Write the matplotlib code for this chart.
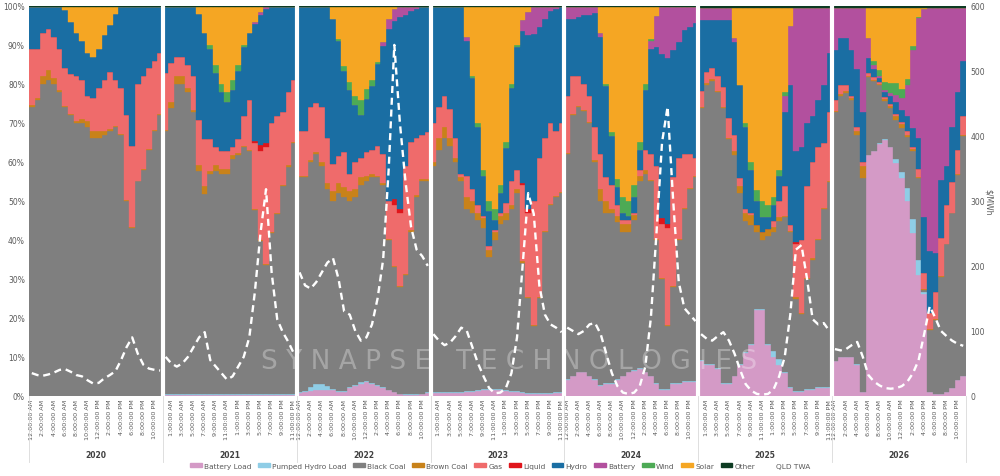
import numpy as np
import matplotlib
matplotlib.use("Agg")
import matplotlib.pyplot as plt
import matplotlib.transforms as mtrans
from matplotlib.patches import Patch
from matplotlib.lines import Line2D

years = ["2020", "2021", "2022", "2023", "2024", "2025", "2026"]
hours = ["12:00:00 AM", "1:00:00 AM", "2:00:00 AM", "3:00:00 AM", "4:00:00 AM", "5:00:00 AM",
         "6:00:00 AM", "7:00:00 AM", "8:00:00 AM", "9:00:00 AM", "10:00:00 AM", "11:00:00 AM",
         "12:00:00 PM", "1:00:00 PM", "2:00:00 PM", "3:00:00 PM", "4:00:00 PM", "5:00:00 PM",
         "6:00:00 PM", "7:00:00 PM", "8:00:00 PM", "9:00:00 PM", "10:00:00 PM", "11:00:00 PM"]
first_label = [0, 1, 0, 1, 0, 1, 0]   # excel skips every other hour label

# generation share by hour of day (%), one row per year
battery_load = [
    [0,0,0,0,0,0,0,0,0,0,0,0,0,0,0,0,0,0,0,0,0,0,0,0],
    [0.3,0.3,0.3,0.3,0.3,0.3,0.3,0.3,0.3,0.3,0.3,0.3,0.3,0.3,0.3,0.3,0.3,0.3,0.3,0.3,0.3,0.3,0.3,0.3],
    [0.8,1,1.2,1.5,1.5,1.5,1.5,1,1,2,2.5,3,3.5,3,2.5,2,1.5,1,0.5,0.3,0.3,0.3,0.5,0.8],
    [0.8,0.8,0.8,0.8,0.8,0.8,1,1,1.2,1.5,1.5,1.5,1.5,1.2,1,1,0.8,0.5,0.5,0.5,0.5,0.5,0.8,0.8],
    [4,5,6,6,5,4,2.5,3,3,4,5,6,6.5,7,6,5,3,1.5,1.5,3,3,3.5,3.5,3.5],
    [9,8,8,7,3,3,5,8,11,13,22,22,13,10,8,6,2,1,1,1.5,1.5,2,2,2],
    [9,10,10,10,8,1,62,63,65,66,64,60,56,50,42,31,26.5,1,0.5,0.5,1,2,4,5],
]
pumped_hydro_load = [
    [0,0,0,0,0,0,0,0,0,0,0,0,0,0,0,0,0,0,0,0,0,0,0,0],
    [0.2,0.2,0.2,0.2,0.2,0.2,0.2,0.2,0.2,0.2,0.2,0.2,0.2,0.2,0.2,0.2,0.2,0.2,0.2,0.2,0.2,0.2,0.2,0.2],
    [0.2,0.3,1,1.5,1.5,1,0.3,0.3,0.3,0.3,0.3,0.5,0.3,0.2,0.2,0.2,0.1,0.1,0.1,0.1,0.1,0.1,0.1,0.2],
    [0.2,0.2,0.2,0.2,0.2,0.2,0.2,0.2,0.2,0.2,0.2,0.2,0.2,0.2,0.2,0.2,0.2,0.2,0.2,0.2,0.2,0.2,0.2,0.2],
    [0.2,0.2,0.2,0.2,0.2,0.2,0.2,0.2,0.2,0.2,0.2,0.2,0.2,0.2,0.2,0.2,0.2,0.2,0.2,0.2,0.2,0.2,0.2,0.2],
    [0.2,0.2,0.2,0.2,0.2,0.2,0.2,0.2,0.2,0.2,0.2,0.2,0.2,1.5,1.5,0.2,0.2,0.2,0.2,0.2,0.2,0.2,0.2,0.2],
    [0.1,0.1,0.1,0.1,0.1,0.1,0.1,0.1,0.1,0.1,0.1,1,1.5,3.5,3.5,4,0.5,0.1,0.1,0.1,0.1,0.1,0.1,0.1],
]
black_coal = [
    [74,76,80,81,80,78,74,72,70,70,69,66,66,67,68,69,67,50,43,55,58,63,68,72],
    [67,73,79,79,77,72,57,51,56,57,56,56,60,61,63,62,47,39,33,41,46,53,58,64],
    [55,54.7,57.8,59,56,50.5,48.2,50.7,49.7,47.7,48.2,50.5,51.2,52.8,53.3,51.8,38.4,31.9,27.4,30.6,41.6,50.6,54.4,54],
    [58,62,65,63,59,54,46.8,45.8,43.6,41.3,33.8,38.3,42.3,43.6,46.8,50.8,33,24.3,17.3,24.3,41.3,48.3,50,51],
    [57.8,66.8,67.8,66.8,64.8,55.8,47.3,43.8,43.8,40.3,36.8,35.8,38.3,47.8,50.8,49.8,36.8,28.3,16.3,24.8,36.8,44.3,49.3,52.3],
    [64.8,71.8,72.8,70.8,70.8,62.8,56.8,43.8,33.8,30.8,19.8,17.8,27.8,30.5,35.5,39.8,39.8,23.8,19.8,28.3,33.3,37.8,45.8,52.8],
    [64,67,68,66,59,55,20,18,15,10,10,10,11.5,13,17.5,21,0.5,16,19,30,38,45,53,62],
]
brown_coal = [
    [0.5,0.5,2,2.5,1.5,0.5,0.3,0.3,0.5,1,1.5,2,2,1,0.5,0.3,0.2,0.2,0.2,0.2,0.2,0.2,0.3,0.3],
    [0.3,1.5,2,2,1,0.5,1.5,2,1,1.5,1.5,1.5,1,0.5,0.3,0.3,0.2,0.2,0.2,0.2,0.2,0.2,0.3,0.3],
    [0.5,0.5,0.5,0.5,1,1.5,2.5,2.5,2.5,2.5,2,2,1.5,1,0.5,0.5,0.3,0.3,0.3,0.3,0.5,0.5,0.5,0.5],
    [1,3,3,2,1,1,3,3,2,2.5,2,2,2,2,1,1,0.5,0.3,0.3,0.3,0.3,0.3,0.3,0.3],
    [0.3,0.3,0.3,0.3,0.3,0.5,3,3,1,1.5,2,2,1.5,1.5,1,0.3,0.3,0.3,0.3,0.3,0.3,0.3,0.3,0.3],
    [0.3,0.3,0.3,0.3,0.3,0.3,1,2,2,2.5,2,2,2,1.5,1,0.3,0.3,0.3,0.3,0.3,0.3,0.3,0.3,0.3],
    [0.3,0.5,0.5,0.5,1,3,0.3,0.3,0.3,0.3,0.5,1,1,0.5,0.5,0.3,0.2,0.2,0.2,0.2,0.2,0.2,0.2,0.2],
]
gas = [
    [14.5,12.5,11,10.5,10.5,10.5,9.7,10.2,11.5,10,6.5,8.5,11,13,14.5,11.7,11.8,21.8,20.8,24.8,23.8,20.8,17.7,15.7],
    [14.7,10,5,5,6,8.5,11.5,12,8,4.5,4.5,4.5,2,3.5,7.7,12.7,16.8,22.8,29.8,27.8,24.8,18.8,18.7,15.7],
    [11.5,11.5,13.5,12.5,14,11.5,7,7,9,4.5,7,5,6,6,7.5,7.5,9.7,15.7,18.7,27.7,22.5,14.5,11.5,12.1],
    [10,8,8,7.6,5,1,5.5,3,2,0.5,1,0.5,1,2.5,6,5,19.5,21.7,31.7,35.7,23.7,20.7,16.7,17.7],
    [14.7,9.7,7.7,6.7,6.7,8.5,9,6,6,3,1,1,0.5,1.5,5,6.7,18.7,13.7,24.7,27.7,20.7,13.7,8.7,4.7],
    [4,3,3,4,5,5,4,2,1,0.5,0,0,0,1.5,4,7.7,1.7,13.7,18.7,23.7,24.7,23.7,16.7,17.7],
    [2.7,2.5,1.5,0.5,1,1,0.7,0.7,0.5,0.5,0.5,0.5,0.5,1,0.5,2,4,4,7,10,10,8,6,5],
]
liquid = [
    [0,0,0,0,0,0,0,0,0,0,0,0,0,0,0,0,0,0,0,0,0,0,0,0],
    [0,0,0,0,0,0,0,0,0,0,0,0,0,0,0,0,0.5,1.5,1,0,0,0,0,0],
    [0,0,0,0,0,0,0,0,0,0,0,0,0,0,0,0,0,1.5,1,0,0,0,0,0],
    [0,0,0,0,0,0,0,0,0,0,0,0,0,0,0,0,0.5,1,0,0,0,0,0,0],
    [0,0,0,0,0,0,0,0,0,0,0,0,0,0,0,0,0,1.5,1,0,0,0,0,0],
    [0,0,0,0,0,0,0,0,0,0,0,0,0,0,0,0,0,0.5,0,0,0,0,0,0],
    [0,0,0,0,0,0,0,0,0,0,0,0,0,0,0,0,0,0,0,0,0,0,0,0],
]
hydro = [
    [10.7,10.7,6.7,5.7,7.7,10.7,15,13.5,11,10,11,10.5,10,11.5,12,17,20.7,27.7,35.7,19.7,17.7,15.7,13.7,11.7],
    [16.7,14.2,12.7,12.7,14.7,17.7,27,27,23,19,15,12.5,14.5,17.5,17.5,17,30,33.2,34.2,29.7,27.7,26.7,21.7,18.7],
    [31.7,31.7,25.7,24.7,25.7,33.7,37.2,29.5,20.7,21.4,14.5,11,13.7,16.4,21.1,27.7,44.2,45.7,49.2,38.7,33.7,33.2,32.7,32.1],
    [29.7,25.7,22.7,26.1,33.7,42.7,34.5,28.5,20,10.5,9,2.5,5,14,24,31.5,39,44.5,42.7,33.7,30.7,28.7,31.2,29.7],
    [19.7,14.7,15.2,17.7,20.7,29.2,30,23.5,12.6,4.6,2,1,4,5,15.5,27,30.5,42.2,42.7,32.7,29.7,31.7,32.7,34.7],
    [18.4,13.4,12.4,14.4,17.4,25.4,24,24,21,11,6,4,3,4,6.5,19,36,23.5,24,16,12,12,15,15],
    [13,12,12,12,15,13,4,2,1,1.5,2,3,3,4,5,8,14.5,16,10,15,10,14,15,14],
]
battery = [
    [0,0,0,0,0,0,0,0,0,0,0,0,0,0,0,0,0,0,0,0,0,0,0,0],
    [0,0,0,0,0,0,0,0,0,0,0,0,0,0,0,0,0.5,0.8,0.5,0,0,0,0,0],
    [0,0,0,0,0,0,0,0,0,0,0,0,0,0,0,1,2.5,3,2.5,2,1,0.5,0,0],
    [0,0,0,0,0,0,1,0,0,0,0,0,0,0,0,0,3,6,7,5,3,1,0.5,0],
    [3,3,2.5,2,2,1.5,1,0,0,0,0,0,0,0,0,2,8,12,13,11,9,6,5,4],
    [3,3,3,3,3,3,1,0,0,0,0,0,0,0,0,4,15,36.7,35.7,29.7,27.7,23.7,19.7,11.7],
    [10.7,7.7,7.7,10.7,15.7,26.7,5,1,0.5,0.5,1,2,3,8,20,31,54,62.7,63.2,44.2,40.7,30.7,21.7,13.7],
]
wind = [
    [0,0,0,0,0,0,0,0,0,0,0,0,0,0,0,0,0,0,0,0,0,0,0,0],
    [0,0,0,0,0,0,0,0,1,2,2,2.5,2.5,1.5,0.5,0,0,0,0,0,0,0,0,0],
    [0,0,0,0,0,0,0,0.5,1.5,2,2.5,4,2.5,1.5,0.5,0,0,0,0,0,0,0,0,0],
    [0,0,0,0,0,0,0,0.5,1,1.5,2.5,3,2,1.5,1,0.5,0,0,0,0,0,0,0,0],
    [0,0,0,0,0,0,0,0.5,1,2,4,4,3,2,1.5,0.5,0,0,0,0,0,0,0,0],
    [0,0,0,0,0,0,0,0,1,2,3,4,3,2,1.5,1,0,0,0,0,0,0,0,0],
    [0,0,0,0,0,0,0,1,1.5,2,2.5,3,2.5,1.5,1,0.3,0,0,0,0,0,0,0,0],
]
solar = [
    [0,0,0,0,0,0,0.7,3.7,6.7,8.7,11.7,12.7,10.7,7.2,4.7,1.7,0,0,0,0,0,0,0,0],
    [0,0,0,0,0,0,1.7,6.7,9.7,14.7,19.7,21.7,18.7,14.7,9.7,6.7,3.7,1.2,0,0,0,0,0,0],
    [0,0,0,0,0,0,3,8.2,15,19.3,22.7,23.7,21,18.8,14.1,9,3,0.5,0,0,0,0,0,0],
    [0,0,0,0,0,0,7.7,17.7,29.7,41.7,49.7,51.7,45.7,34.7,19.7,9.7,3.2,1.2,0,0,0,0,0,0],
    [0,0,0,0,0,0,6.7,19.7,32.1,44.1,48.7,49.7,45.7,34.7,19.7,8.2,2.2,0,0,0,0,0,0,0],
    [0,0,0,0,0,0,7.7,19.7,29.7,39.7,46.7,49.7,50.7,48.7,41.7,21.7,4.7,0,0,0,0,0,0,0],
    [0,0,0,0,0,0,7.7,13.7,16,19,19.2,19.2,20.7,18.2,9.7,2.2,0.2,0,0,0,0,0,0,0],
]
other = [
    [0.3,0.3,0.3,0.3,0.3,0.3,0.3,0.3,0.3,0.3,0.3,0.3,0.3,0.3,0.3,0.3,0.3,0.3,0.3,0.3,0.3,0.3,0.3,0.3],
    [0.3,0.3,0.3,0.3,0.3,0.3,0.3,0.3,0.3,0.3,0.3,0.3,0.3,0.3,0.3,0.3,0.3,0.3,0.3,0.3,0.3,0.3,0.3,0.3],
    [0.3,0.3,0.3,0.3,0.3,0.3,0.3,0.3,0.3,0.3,0.3,0.3,0.3,0.3,0.3,0.3,0.3,0.3,0.3,0.3,0.3,0.3,0.3,0.3],
    [0.3,0.3,0.3,0.3,0.3,0.3,0.3,0.3,0.3,0.3,0.3,0.3,0.3,0.3,0.3,0.3,0.3,0.3,0.3,0.3,0.3,0.3,0.3,0.3],
    [0.3,0.3,0.3,0.3,0.3,0.3,0.3,0.3,0.3,0.3,0.3,0.3,0.3,0.3,0.3,0.3,0.3,0.3,0.3,0.3,0.3,0.3,0.3,0.3],
    [0.5,0.5,0.5,0.5,0.5,0.5,0.5,0.5,0.5,0.5,0.5,0.5,0.5,0.5,0.5,0.5,0.5,0.5,0.5,0.5,0.5,0.5,0.5,0.5],
    [0.6,0.6,0.6,0.6,0.6,0.6,0.6,0.6,0.6,0.6,0.6,0.6,0.6,0.6,0.6,0.6,0.6,0.6,0.6,0.6,0.6,0.6,0.6,0.6],
]

# QLD time weighted average price ($/MWh)
qld_twa = [
    [35,32,31,33,36,40,41,37,32,30,24,19,20,27,32,38,55,75,90,65,48,42,40,39],
    [60,50,45,50,60,75,90,98,55,45,35,25,30,45,60,90,160,250,318,190,118,98,83,65],
    [190,170,165,175,190,205,212,180,130,125,100,85,90,110,150,210,350,540,420,330,260,225,215,200],
    [95,85,78,82,92,105,100,75,50,30,12,4,5,12,35,90,200,312,280,170,125,110,105,98],
    [105,100,95,100,110,112,95,65,35,15,5,3,5,15,45,120,250,390,445,300,175,135,125,115],
    [95,88,85,92,98,85,65,40,18,8,3,2,3,10,30,60,125,225,232,180,118,110,112,100],
    [72,70,72,78,83,60,32,22,16,12,11,12,15,22,35,55,95,138,120,100,92,85,80,77],
]

series = [
    ("Battery Load", battery_load, "#d49ac6"),
    ("Pumped Hydro Load", pumped_hydro_load, "#8fcde6"),
    ("Black Coal", black_coal, "#7f7f7f"),
    ("Brown Coal", brown_coal, "#c8821a"),
    ("Gas", gas, "#ef6b6b"),
    ("Liquid", liquid, "#e0151b"),
    ("Hydro", hydro, "#1a6ea3"),
    ("Battery", battery, "#b2509e"),
    ("Wind", wind, "#4daa55"),
    ("Solar", solar, "#f5a623"),
    ("Other", other, "#0d3b22"),
]

n = 24 * len(years)
x = np.arange(n)
vals = np.array([np.concatenate(s[1]) for s in series], dtype=float)
vals = vals / vals.sum(axis=0) * 100   # 100% stacked

fig = plt.figure(figsize=(10, 4.77), dpi=100)
ax = fig.add_axes([0.029, 0.168, 0.937, 0.8175])

bottom = np.zeros(n)
for (name, _, col), v in zip(series, vals):
    ax.bar(x, v, bottom=bottom, width=1.0, color=col, edgecolor=col, linewidth=0.25, zorder=2)
    bottom += v

ax.set_xlim(-0.5, n - 0.5)
ax.set_ylim(0, 100)
for s in ax.spines.values():
    s.set_visible(False)
ax.set_yticks(range(0, 101, 10))
ax.set_yticklabels([f"{t}%" for t in range(0, 101, 10)])
ax.tick_params(axis="y", length=0, labelsize=5.5, labelcolor="#595959", pad=3)

ticks, labels = [], []
for k in range(len(years)):
    for h in range(first_label[k], 24, 2):
        ticks.append(24 * k + h)
        labels.append(hours[h])
ax.set_xticks(ticks)
ax.set_xticklabels(labels, rotation=90, fontsize=4.6, color="#595959")
ax.tick_params(axis="x", length=0, pad=2)

# white gaps between years
for k in range(1, len(years)):
    ax.axvline(24 * k - 0.5, color="white", lw=3, zorder=3)

trans = mtrans.blended_transform_factory(ax.transData, fig.transFigure)
for k in range(len(years) + 1):
    ax.plot([24 * k - 0.5] * 2, [0.168, 0.03], transform=trans, color="#d9d9d9",
            lw=0.6, clip_on=False)
for k, yr in enumerate(years):
    ax.text(24 * k + 11.5, 0.046, yr, transform=trans, ha="center", va="center",
            fontsize=5.5, fontweight="bold", color="#404040")

ax2 = ax.twinx()
ax2.set_ylim(0, 600)
ax2.set_yticks(range(0, 601, 100))
ax2.tick_params(axis="y", length=0, labelsize=5.5, labelcolor="#595959", pad=3)
for s in ax2.spines.values():
    s.set_visible(False)
ax2.set_ylabel(r"\$/MWh", fontsize=5.5, color="#595959", rotation=270, labelpad=6)
for k in range(len(years)):
    ax2.plot(24 * k + np.arange(24), qld_twa[k], color="white", lw=1.7,
             ls=(0, (3, 2)), zorder=5)

fig.text(0.509, 1 - 362 / 477, "S Y N A P S E   T E C H N O L O G I E S", fontsize=19,
         color="white", alpha=0.3, ha="center", va="center", zorder=10)

handles = [Patch(facecolor=c, edgecolor=c) for _, _, c in series]
handles.append(Line2D([0], [0], color="white", lw=1.5, ls=(0, (3, 2))))
names = [s[0] for s in series] + ["QLD TWA"]
fig.legend(handles, names, loc="center", bbox_to_anchor=(0.5, 0.022), ncol=12,
           fontsize=5.3, frameon=False, handlelength=1.6, handleheight=0.5,
           handletextpad=0.3, columnspacing=0.9, labelcolor="#595959")

fig.savefig("out.png", dpi=100)
